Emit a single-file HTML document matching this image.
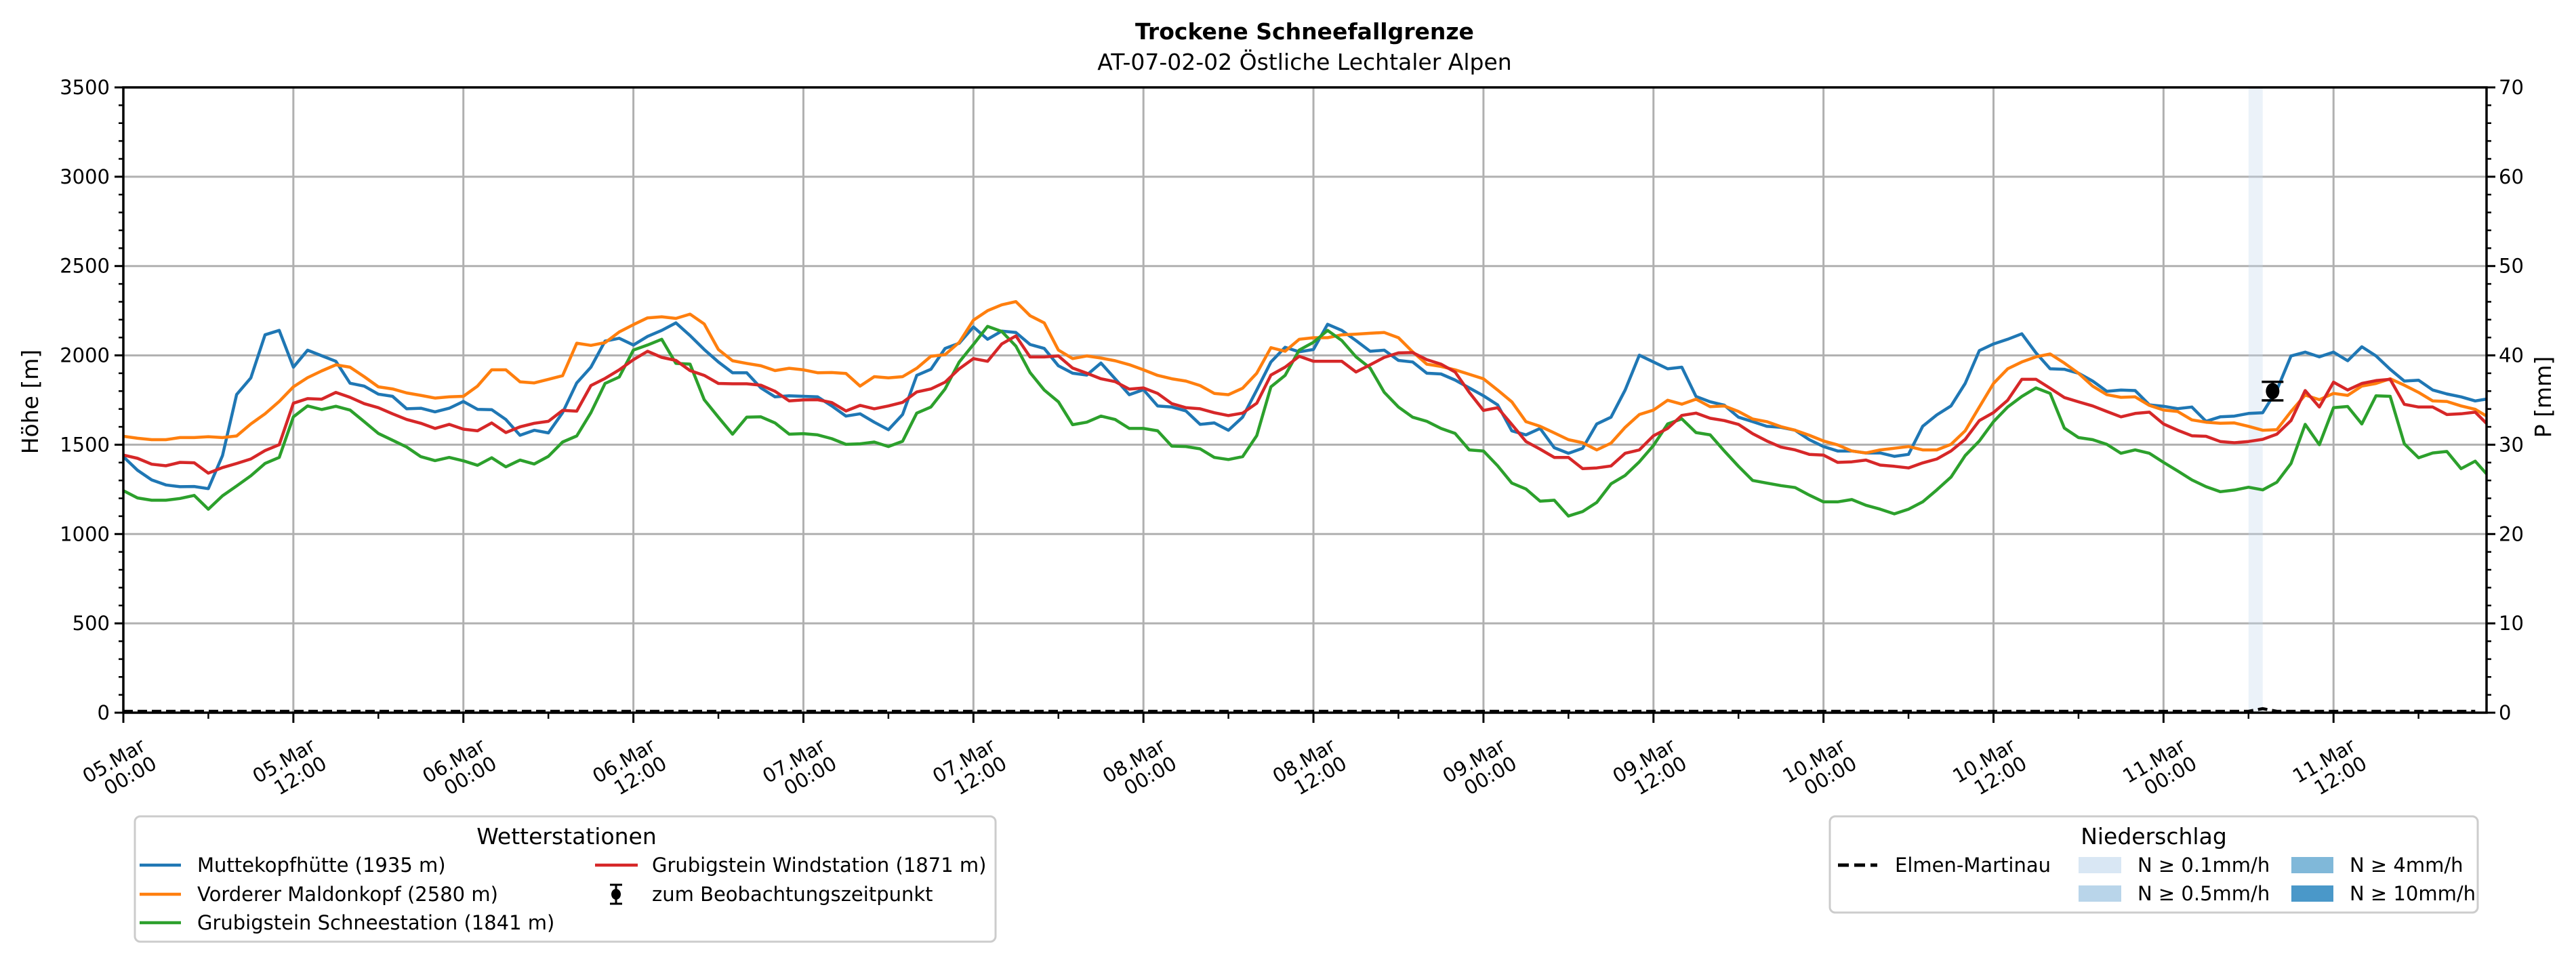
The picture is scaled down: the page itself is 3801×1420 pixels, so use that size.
<!DOCTYPE html>
<html><head><meta charset="utf-8">
<style>
html,body{margin:0;padding:0;background:#fff;}
svg{display:block;font-family:"DejaVu Sans","Liberation Sans",sans-serif;}
</style></head>
<body>
<svg id="chart" width="3801" height="1420" viewBox="0 0 3801 1420" xmlns="http://www.w3.org/2000/svg">
<text x="1925" y="58" font-size="33" font-weight="bold" text-anchor="middle">Trockene Schneefallgrenze</text>
<text x="1925" y="103" font-size="33" text-anchor="middle">AT-07-02-02 Östliche Lechtaler Alpen</text>
<text transform="translate(56,593) rotate(-90)" font-size="33" text-anchor="middle">Höhe [m]</text>
<text transform="translate(3764,586) rotate(-90)" font-size="33" text-anchor="middle">P [mm]</text>
<g id="grid"></g>
<g id="bars"></g>
<g id="series"></g>
<g id="axes"></g>

<g>
<rect x="199" y="1205" width="1270" height="185" rx="8" fill="#fff" stroke="#cccccc" stroke-width="3"/>
<text x="836" y="1246" font-size="33" text-anchor="middle">Wetterstationen</text>
<g><line x1="206" y1="1277" x2="267" y2="1277" stroke="#1f77b4" stroke-width="4.5"/><text x="291" y="1287" font-size="29">Muttekopfhütte (1935 m)</text></g>
<g><line x1="206" y1="1320" x2="267" y2="1320" stroke="#ff7f0e" stroke-width="4.5"/><text x="291" y="1330" font-size="29">Vorderer Maldonkopf (2580 m)</text></g>
<g><line x1="206" y1="1362" x2="267" y2="1362" stroke="#2ca02c" stroke-width="4.5"/><text x="291" y="1372" font-size="29">Grubigstein Schneestation (1841 m)</text></g>
<g><line x1="878" y1="1277" x2="941" y2="1277" stroke="#d62728" stroke-width="4.5"/><text x="962" y="1287" font-size="29">Grubigstein Windstation (1871 m)</text></g>
<g><line x1="909" y1="1306" x2="909" y2="1334" stroke="#000" stroke-width="3"/><line x1="900" y1="1306" x2="918" y2="1306" stroke="#000" stroke-width="3"/><line x1="900" y1="1334" x2="918" y2="1334" stroke="#000" stroke-width="3"/><ellipse cx="909" cy="1320" rx="7" ry="8"/><text x="962" y="1330" font-size="29">zum Beobachtungszeitpunkt</text></g>
</g>

<g>
<rect x="2700" y="1205" width="956" height="142" rx="8" fill="#fff" stroke="#cccccc" stroke-width="3"/>
<text x="3178" y="1246" font-size="33" text-anchor="middle">Niederschlag</text>
<g><line x1="2712" y1="1277" x2="2770" y2="1277" stroke="#000" stroke-width="5" stroke-dasharray="16,8"/><text x="2796" y="1287" font-size="29">Elmen-Martinau</text></g>
<g><rect x="3067" y="1265" width="63" height="24" fill="#d9e7f4"/><text x="3154" y="1287" font-size="29">N ≥ 0.1mm/h</text></g>
<g><rect x="3067" y="1307" width="63" height="24" fill="#b9d5ea"/><text x="3154" y="1329" font-size="29">N ≥ 0.5mm/h</text></g>
<g><rect x="3381" y="1265" width="62" height="24" fill="#80b8d9"/><text x="3467" y="1287" font-size="29">N ≥ 4mm/h</text></g>
<g><rect x="3381" y="1307" width="62" height="24" fill="#4a98c9"/><text x="3467" y="1329" font-size="29">N ≥ 10mm/h</text></g>
</g>
</svg>
<script>
const muttekopf = [1433,1357,1303,1275,1265,1266,1254,1439,1781,1874,2115,2140,1934,2029,1998,1967,1844,1828,1783,1771,1701,1704,1684,1704,1742,1698,1696,1641,1553,1581,1566,1679,1846,1934,2080,2096,2058,2106,2140,2182,2111,2033,1963,
1903,1903,1818,1768,1774,1771,1768,1717,1660,1673,1626,1584,1669,1888,1922,2039,2068,2159,2090,2136,2128,2061,2039,1942,1900,1890,1957,1869,1780,1808,1717,1711,1689,1614,1622,1581,1654,1806,1963,2045,2020,2033,
2174,2140,2083,2023,2029,1972,1963,1900,1896,1862,1818,1774,1723,1578,1555,1591,1483,1452,1480,1616,1654,1806,2001,1963,1925,1934,1770,1740,1721,1654,1629,1603,1597,1581,1528,1490,1465,1465,1454,1454,1435,
1446,1603,1667,1717,1843,2027,2064,2090,2121,2014,1925,1922,1900,1856,1799,1806,1803,1723,1715,1702,1711,1631,1656,1660,1675,1679,1806,1997,2018,1992,2018,1970,2048,1997,1922,1856,1861,1806,1784,1768,1745,1758];
const maldonkopf = [1547,1536,1528,1528,1540,1540,1545,1540,1549,1616,1673,1742,1824,1875,1913,1947,1934,1881,1824,1812,1790,1776,1761,1768,1771,1828,1919,1919,1852,1846,1866,1886,2068,2056,2071,2131,2172,2210,2216,2207,2231,2176,2033,
1970,1955,1942,1915,1928,1919,1903,1904,1899,1828,1881,1874,1881,1928,1995,2004,2073,2197,2250,2283,2301,2222,2182,2030,1982,1997,1985,1970,1948,1919,1888,1869,1856,1831,1787,1780,1816,1900,2043,2023,2090,2099,
2099,2115,2119,2124,2128,2099,2020,1951,1938,1919,1894,1869,1806,1740,1629,1603,1566,1528,1511,1471,1509,1597,1669,1694,1749,1727,1755,1713,1717,1686,1644,1629,1601,1581,1553,1521,1499,1465,1454,1471,1480,
1490,1471,1471,1502,1578,1711,1843,1925,1963,1992,2008,1957,1900,1828,1780,1765,1768,1720,1694,1686,1639,1626,1620,1622,1603,1581,1584,1686,1778,1752,1787,1776,1828,1843,1869,1833,1793,1745,1742,1717,1698,1651];
const schneestation = [1243,1202,1189,1189,1199,1216,1139,1214,1269,1326,1395,1429,1656,1717,1697,1715,1694,1629,1563,1525,1487,1433,1411,1429,1410,1385,1427,1376,1414,1392,1435,1515,1549,1679,1843,1879,2030,2058,2090,1955,1951,1752,1654,
1559,1654,1656,1622,1559,1562,1555,1534,1502,1505,1515,1490,1519,1677,1711,1812,1963,2061,2162,2134,2052,1904,1806,1740,1612,1626,1660,1641,1591,1591,1578,1492,1490,1477,1429,1417,1433,1551,1824,1888,2030,2073,
2140,2083,1992,1929,1793,1711,1654,1631,1591,1563,1471,1465,1382,1285,1252,1184,1189,1101,1126,1177,1281,1328,1404,1496,1616,1645,1568,1555,1465,1379,1300,1285,1271,1260,1218,1180,1180,1193,1161,1139,1113,
1139,1180,1247,1319,1439,1521,1629,1711,1770,1818,1787,1593,1540,1528,1502,1452,1471,1452,1401,1353,1303,1265,1237,1246,1262,1247,1290,1395,1614,1500,1707,1714,1616,1774,1771,1505,1427,1454,1462,1366,1408,1319];
const windstation = [1442,1424,1391,1382,1401,1399,1341,1372,1395,1420,1467,1500,1732,1758,1755,1793,1765,1730,1707,1673,1641,1620,1591,1614,1587,1578,1622,1568,1600,1620,1631,1692,1688,1831,1871,1919,1976,2023,1989,1972,1915,1888,1843,
1841,1841,1833,1799,1745,1751,1752,1736,1689,1720,1701,1717,1737,1795,1812,1850,1925,1982,1967,2064,2109,1991,1991,1997,1929,1900,1869,1853,1811,1818,1787,1730,1707,1701,1679,1663,1677,1732,1890,1934,1995,1967,
1967,1967,1907,1947,1989,2014,2016,1976,1951,1907,1793,1692,1707,1614,1518,1475,1429,1429,1366,1370,1381,1452,1471,1550,1591,1664,1677,1648,1635,1614,1562,1521,1487,1471,1446,1442,1401,1404,1414,1386,1379,
1370,1398,1420,1465,1530,1635,1680,1749,1866,1866,1816,1764,1740,1717,1686,1656,1675,1682,1616,1581,1550,1547,1518,1511,1518,1530,1559,1635,1803,1711,1850,1806,1843,1859,1866,1726,1711,1711,1669,1673,1682,1603];
const precipElmen = [0,0,0,0,0,0,0,0,0,0,0,0,0,0,0,0,0,0,0,0,0,0,0,0,0,0,0,0,0,0,0,0,0,0,0,0,0,0,0,0,0,0,0,0,0,0,0,0,0,0,0,0,0,0,0,0,0,0,0,0,0,0,0,0,0,0,0,0,0,0,0,0,0,0,0,0,0,0,0,0,0,0,0,0,0,0,0,0,0,0,0,0,0,0,0,0,0,0,0,0,0,0,0,0,0,0,0,0,0,0,0,0,0,0,0,0,0,0,0,0,0,0,0,0,0,0,0,0,0,0,0,0,0,0,0,0,0,0,0,0,0,0,0,0,0,0,0,0,0,0,0,0.3,0,0,0,0,0,0,0,0,0,0,0,0,0,0,0];
const precipBarStart = [150];
const precipBarLevel = ["0.1"];
const obsHour = [151.7];
const obsValue = [1800];
const obsErr = [52];
const yTicks = [0,500,1000,1500,2000,2500,3000,3500];
const y2Ticks = [0,10,20,30,40,50,60,70];
const xTickDays = ["05.Mar","05.Mar","06.Mar","06.Mar","07.Mar","07.Mar","08.Mar","08.Mar","09.Mar","09.Mar","10.Mar","10.Mar","11.Mar","11.Mar"];
const xTickTimes = ["00:00","12:00","00:00","12:00","00:00","12:00","00:00","12:00","00:00","12:00","00:00","12:00","00:00","12:00"];

const L=182,R=3669,T=129,B=1052,XMAX=166.8;
const NS="http://www.w3.org/2000/svg";
const xs=h=>L+(R-L)*h/XMAX;
const ys=v=>B-(B-T)*v/3500;
const y2s=p=>B-(B-T)*p/70;
function mk(tag,attrs,parent){const e=document.createElementNS(NS,tag);for(const k in attrs)e.setAttribute(k,attrs[k]);parent.appendChild(e);return e;}
const grid=document.getElementById('grid'),axes=document.getElementById('axes'),series=document.getElementById('series'),bars=document.getElementById('bars');

yTicks.forEach(v=>{
  const g=mk('line',{x1:L,x2:R,y1:ys(v),y2:ys(v),stroke:'#b0b0b0','stroke-width':3},grid);
  
  
  const t=mk('line',{x1:L-13,x2:L,y1:ys(v),y2:ys(v),stroke:'#000','stroke-width':3},axes);
  
  
  const lb=mk('text',{x:L-20,y:ys(v)+10,'font-size':29,'text-anchor':'end'},axes);
  lb.textContent=v;
  
  
});
for(let v=100;v<3500;v+=100){ if(v%500===0)continue;
  const t=mk('line',{x1:L-7,x2:L,y1:ys(v),y2:ys(v),stroke:'#000','stroke-width':2.5},axes);
  
  
}
y2Ticks.forEach(p=>{
  const t=mk('line',{x1:R,x2:R+13,y1:y2s(p),y2:y2s(p),stroke:'#000','stroke-width':3},axes);
  
  
  const lb=mk('text',{x:R+18,y:y2s(p)+10,'font-size':29},axes);
  lb.textContent=p;
  
  
});
for(let p=2;p<70;p+=2){ if(p%10===0)continue;
  const t=mk('line',{x1:R,x2:R+7,y1:y2s(p),y2:y2s(p),stroke:'#000','stroke-width':2.5},axes);
  
  
}
xTickDays.forEach((d,i)=>{
  const x=xs(i*12);
  const g=mk('line',{x1:x,x2:x,y1:T,y2:B,stroke:'#b0b0b0','stroke-width':3},grid);
  
  
  const t=mk('line',{x1:x,x2:x,y1:B,y2:B+15,stroke:'#000','stroke-width':3},axes);
  
  
  const m=mk('line',{x1:xs(i*12+6),x2:xs(i*12+6),y1:B,y2:B+9,stroke:'#000','stroke-width':2.5},axes);
  
  
  const lg=mk('g',{transform:`translate(${x-14},${1123}) rotate(-30)`},axes);
  
  
  const t1=mk('text',{x:0,y:10,'font-size':29,'text-anchor':'middle'},lg); t1.textContent=d;
  const t2=mk('text',{x:10,y:41,'font-size':29,'text-anchor':'middle'},lg); t2.textContent=xTickTimes[i];
});

precipBarStart.forEach((h,i)=>{
  const r=mk('rect',{x:xs(h),y:T,width:xs(h+1)-xs(h),height:B-T,fill:'#c6dbef','fill-opacity':0.35},bars);
  
  
});

function line(data,color,name){
  const d=data.map((v,h)=>(h?'L':'M')+xs(h).toFixed(1)+','+ys(v).toFixed(1)).join('');
  const p=mk('path',{d:d,fill:'none',stroke:color,'stroke-width':4.5,'stroke-linejoin':'round','clip-path':'url(#clip)'},series);
  
  
}
const defs=mk('defs',{},document.getElementById('chart'));
const cp=mk('clipPath',{id:'clip'},defs); mk('rect',{x:L,y:T-5,width:R-L,height:B-T+10},cp);
line(muttekopf,'#1f77b4','line-muttekopf');
line(maldonkopf,'#ff7f0e','line-maldonkopf');
line(schneestation,'#2ca02c','line-schneestation');
line(windstation,'#d62728','line-windstation');

const pd=precipElmen.map((p,h)=>(h?'L':'M')+xs(h).toFixed(1)+','+(y2s(p)-2).toFixed(1)).join('');
const pl=mk('path',{d:pd,fill:'none',stroke:'#000','stroke-width':4.5,'stroke-dasharray':'14,7','clip-path':'url(#clip)'},series);



obsHour.forEach((h,i)=>{
  const g=mk('g',{},series);
  
  
  const x=xs(h),yt=ys(obsValue[i]+obsErr[i]),yb=ys(obsValue[i]-obsErr[i]);
  mk('line',{x1:x,x2:x,y1:yt,y2:yb,stroke:'#000','stroke-width':3.5},g);
  mk('line',{x1:x-16,x2:x+16,y1:yt,y2:yt,stroke:'#000','stroke-width':3.5},g);
  mk('line',{x1:x-16,x2:x+16,y1:yb,y2:yb,stroke:'#000','stroke-width':3.5},g);
  mk('ellipse',{cx:x,cy:ys(obsValue[i]),rx:10,ry:12,fill:'#000'},g);
});

const fr=mk('rect',{x:L,y:T,width:R-L,height:B-T,fill:'none',stroke:'#000','stroke-width':3.5},axes);


</script>
</body></html>
